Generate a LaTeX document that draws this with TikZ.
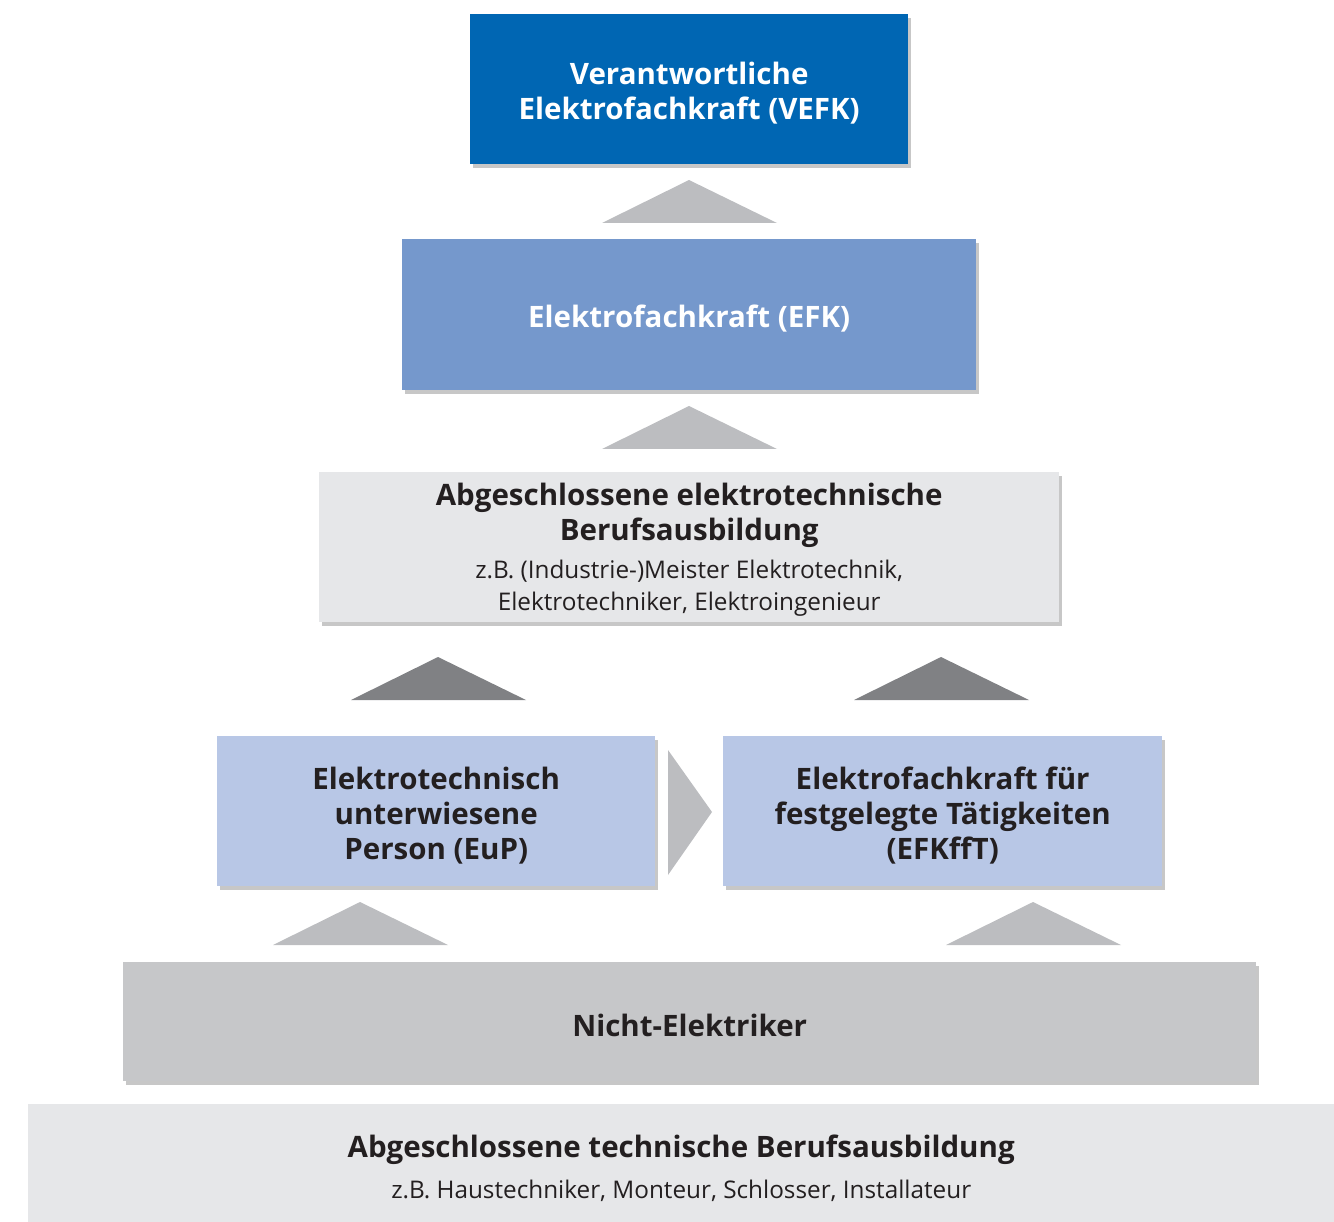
\documentclass[tikz,border=0pt]{standalone}
\usepackage{fontspec}
\setmainfont{Open Sans}
\usetikzlibrary{shadows}
\definecolor{cVEFK}{HTML}{0066B3}
\definecolor{cEFK}{HTML}{7598CC}
\definecolor{cLight}{HTML}{E6E7E9}
\definecolor{cPale}{HTML}{B8C7E6}
\definecolor{cNE}{HTML}{C6C7C9}
\definecolor{cTri}{HTML}{BCBDC0}
\definecolor{cTriDark}{HTML}{808184}
\definecolor{cText}{HTML}{231F20}
\newcommand{\ttlf}{\fontsize{29.5}{35}\selectfont\bfseries}
\newcommand{\subf}{\fontsize{24.3}{32}\selectfont\mdseries}
\tikzset{
  box/.style={anchor=north west, inner sep=0pt,
    drop shadow={shadow xshift=3pt, shadow yshift=-4pt, fill=black, opacity=0.22}},
  flatbox/.style={anchor=north west, inner sep=0pt},
  lbl/.style={inner sep=0pt, align=center, text=cText, font=\ttlf, yshift=-4pt},
  tri/.style={fill=cTri},
  tridark/.style={fill=cTriDark}
}
\begin{document}
\begin{tikzpicture}[x=1pt,y=-1pt]
\useasboundingbox (0,0) rectangle (1334,1222);
% boxes
\node[box, fill=cVEFK, minimum width=438pt, minimum height=150pt] (vefk) at (470,14) {};
\node[lbl, text=white] (vefkT) at (vefk.center) {Verantwortliche\\Elektrofachkraft (VEFK)};
\node[box, fill=cEFK, minimum width=574pt, minimum height=151pt] (efk) at (402,239) {};
\node[lbl, text=white] (efkT) at (efk.center) {Elektrofachkraft (EFK)};
\node[box, fill=cLight, minimum width=740pt, minimum height=150pt] (aeb) at (319,472) {};
\node[lbl] (aebT) at (aeb.center)
  {\begin{tabular}{@{}c@{}}
   \ttlf Abgeschlossene elektrotechnische\\
   \ttlf Berufsausbildung\\[3pt]
   \subf z.B. (Industrie-)Meister Elektrotechnik,\\[-3pt]
   \subf Elektrotechniker, Elektroingenieur
   \end{tabular}};
\node[box, fill=cPale, minimum width=438pt, minimum height=150pt] (eup) at (217,736) {};
\node[lbl] (eupT) at (eup.center) {Elektrotechnisch\\unterwiesene\\Person (EuP)};
\node[box, fill=cPale, minimum width=439pt, minimum height=150pt] (efkfft) at (723,736) {};
\node[lbl] (efkfftT) at (efkfft.center) {Elektrofachkraft für\\festgelegte Tätigkeiten\\(EFKffT)};
\node[box, fill=cNE, minimum width=1133pt, minimum height=119pt] (ne) at (123,962) {};
\node[lbl] (neT) at (ne.center) {Nicht-Elektriker};
\node[flatbox, fill=cLight, minimum width=1306pt, minimum height=118pt] (atb) at (28,1104) {};
\node[lbl, yshift=-4pt] (atbT) at (atb.center)
  {\begin{tabular}{@{}c@{}}
   \ttlf Abgeschlossene technische Berufsausbildung\\[6pt]
   \subf z.B. Haustechniker, Monteur, Schlosser, Installateur
   \end{tabular}};
% arrows (triangles)
\coordinate (t1) at (689,180);
\fill[tri] (t1) -- ++(88,43) -- ++(-175,0) -- cycle;
\coordinate (t2) at (689,406);
\fill[tri] (t2) -- ++(88,43) -- ++(-175,0) -- cycle;
\coordinate (t3) at (438,657);
\fill[tridark] (t3) -- ++(88,43) -- ++(-175,0) -- cycle;
\coordinate (t4) at (941,657);
\fill[tridark] (t4) -- ++(88,43) -- ++(-175,0) -- cycle;
\coordinate (t5) at (360,902);
\fill[tri] (t5) -- ++(88,43) -- ++(-175,0) -- cycle;
\coordinate (t6) at (1033,902);
\fill[tri] (t6) -- ++(88,43) -- ++(-175,0) -- cycle;
\coordinate (r1) at (712,812);
\fill[tri] (r1) -- ++(-44,-62) -- ++(0,125) -- cycle;
\end{tikzpicture}
\end{document}
